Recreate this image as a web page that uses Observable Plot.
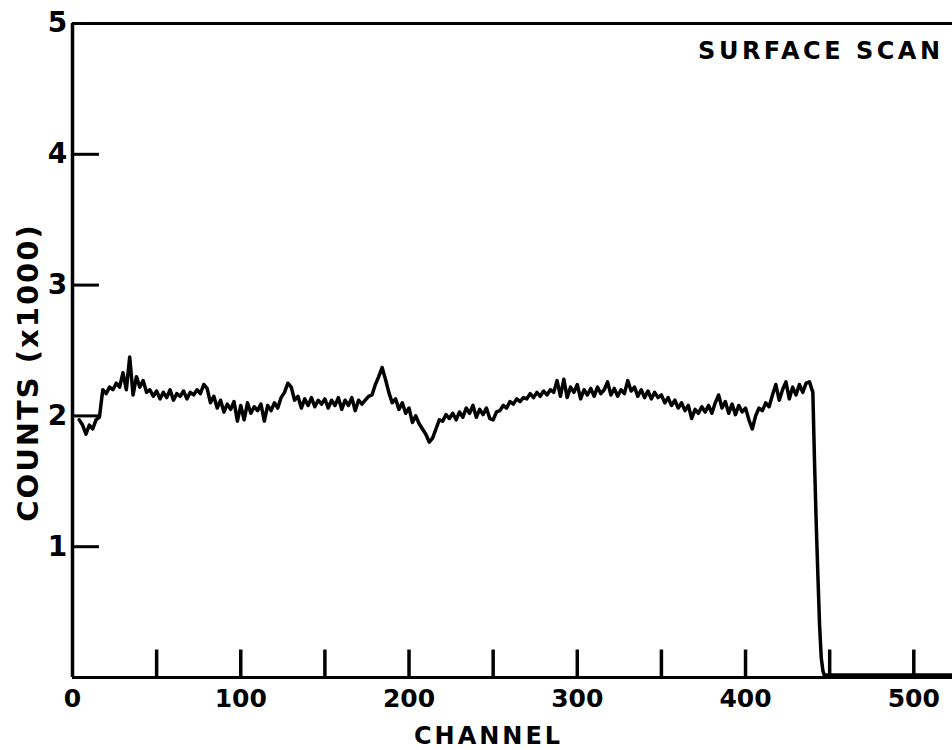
<!DOCTYPE html>
<html>
<head>
<meta charset="utf-8">
<script src="https://cdn.jsdelivr.net/npm/d3@7"></script>
<script src="https://cdn.jsdelivr.net/npm/@observablehq/plot@0.6"></script>
<style>
  html, body { margin: 0; padding: 0; background: #fff; }
  #chart svg { display: block; }
</style>
</head>
<body>
<div id="chart"></div>
<script>
// Channel numbers (x) and counts in thousands (y)
const channels = [
  4,6,8,10,12,14,16,18,20,22,24,26,28,30,32,34,36,38,40,42,44,46,48,50,
  52,54,56,58,60,62,64,66,68,70,72,74,76,78,80,82,84,86,88,90,92,94,96,98,100,
  102,104,106,108,110,112,114,116,118,120,122,124,126,128,130,132,134,136,138,140,
  142,144,146,148,150,152,154,156,158,160,162,164,166,168,170,172,174,176,178,180,
  182,184,186,188,190,192,194,196,198,200,202,204,206,208,210,212,214,216,218,220,
  222,224,226,228,230,232,234,236,238,240,242,244,246,248,250,252,254,256,258,260,
  262,264,266,268,270,272,274,276,278,280,282,284,286,288,290,292,294,296,298,300,
  302,304,306,308,310,312,314,316,318,320,322,324,326,328,330,332,334,336,338,340,
  342,344,346,348,350,352,354,356,358,360,362,364,366,368,370,372,374,376,378,380,
  382,384,386,388,390,392,394,396,398,400,402,404,406,408,410,412,414,416,418,420,
  422,424,426,428,430,432,434,436,438,440,441,442,443,444,445,446,447,448,460,480,500,523
];
const counts = [
  1.97,1.93,1.86,1.93,1.90,1.97,1.99,2.20,2.17,2.22,2.20,2.25,2.22,2.33,2.20,2.45,2.16,2.30,2.22,2.27,2.18,2.20,2.15,2.19,
  2.13,2.18,2.14,2.20,2.12,2.17,2.15,2.19,2.13,2.18,2.16,2.20,2.17,2.24,2.21,2.10,2.15,2.06,2.12,2.03,2.09,2.05,2.11,1.96,2.08,
  1.97,2.10,2.02,2.07,2.04,2.09,1.96,2.08,2.04,2.10,2.06,2.14,2.18,2.25,2.22,2.12,2.15,2.06,2.13,2.08,
  2.14,2.07,2.12,2.09,2.13,2.06,2.12,2.08,2.14,2.05,2.12,2.08,2.14,2.04,2.12,2.09,2.12,2.15,2.16,2.24,
  2.30,2.37,2.28,2.18,2.10,2.13,2.05,2.10,2.02,2.06,1.95,2.00,1.94,1.90,1.86,1.80,1.83,1.90,1.97,1.96,
  2.01,1.98,2.02,1.97,2.03,1.99,2.06,2.02,2.08,1.99,2.05,2.01,2.06,1.98,1.97,2.03,2.04,2.08,2.06,2.11,
  2.09,2.13,2.11,2.14,2.13,2.17,2.14,2.18,2.15,2.19,2.16,2.20,2.18,2.27,2.15,2.28,2.14,2.22,2.18,2.24,
  2.13,2.20,2.16,2.21,2.15,2.22,2.17,2.20,2.26,2.16,2.21,2.15,2.20,2.17,2.27,2.19,2.22,2.15,2.20,2.14,
  2.19,2.13,2.18,2.14,2.16,2.10,2.14,2.08,2.12,2.06,2.10,2.04,2.08,1.98,2.05,2.02,2.07,2.03,2.08,2.02,
  2.10,2.16,2.06,2.11,2.02,2.09,2.01,2.08,2.03,2.06,1.97,1.90,2.00,2.06,2.04,2.10,2.07,2.16,2.24,2.12,
  2.20,2.26,2.13,2.22,2.16,2.24,2.18,2.25,2.26,2.18,1.65,1.18,0.78,0.40,0.15,0.05,0.01,0.02,0.02,0.02,0.02,0.02
];
const xTickMarks = [50,100,150,200,250,300,350,400,450,500];
const xTickLabels = [0,100,200,300,400,500];
const yTickMarks = [1,2,3,4];
const yTickLabels = [1,2,3,4,5];
const xDomain = [0, 523];
const yDomain = [0, 5];

const data = channels.map((c, i) => ({channel: c, count: counts[i]}));

const font = "DejaVu Sans";
const plot = Plot.plot({
  width: 952,
  height: 750,
  marginLeft: 72,
  marginRight: 0,
  marginTop: 23,
  marginBottom: 73,
  style: {fontFamily: font, background: "#fff", color: "#000"},
  x: {domain: xDomain, axis: null},
  y: {domain: yDomain, axis: null},
  marks: [
    // frame: left, bottom, top
    Plot.ruleX([0], {y1: yDomain[0], y2: yDomain[1], strokeWidth: 3.5}),
    Plot.ruleY([0], {x1: xDomain[0], x2: xDomain[1], strokeWidth: 3}),
    Plot.ruleY([5], {x1: xDomain[0], x2: xDomain[1], strokeWidth: 3}),
    // inward ticks
    Plot.ruleX(xTickMarks, {x: d => d, y1: 0, y2: 0.21, strokeWidth: 3.5}),
    Plot.ruleY(yTickMarks, {y: d => d, x1: 0, x2: 16, strokeWidth: 3}),
    // tick labels
    Plot.text(xTickLabels, {x: d => d, y: 0, dy: 21, text: d => String(d), fontSize: 25, fontWeight: "bold", fill: "#000"}),
    Plot.text(yTickLabels, {x: 0, y: d => d, dx: -15, dy: 0, text: d => String(d), fontSize: 28, fontWeight: "bold", fill: "#000"}),
    // data trace
    Plot.line(data, {x: "channel", y: "count", strokeWidth: 3.5, strokeLinejoin: "round", curve: "linear"}),
    // titles
    Plot.text(["CHANNEL"], {frameAnchor: "bottom", textAnchor: "middle", dx: -24, dy: 66, fontSize: 24, fontWeight: "bold", fill: "#000"}),
    Plot.text(["SURFACE SCAN"], {frameAnchor: "top-right", textAnchor: "end", dx: -9, dy: 18, fontSize: 24, fontWeight: "bold", fill: "#000"}),
    Plot.text(["COUNTS (x1000)"], {frameAnchor: "left", textAnchor: "middle", rotate: -90, dx: -44, dy: 22, fontSize: 29, fontWeight: "bold", fill: "#000"})
  ]
});
document.getElementById("chart").appendChild(plot);
// letter spacing for the titles
d3.select(plot).selectAll("text").each(function() {
  const t = this.textContent;
  if (t === "CHANNEL") this.setAttribute("letter-spacing", "3");
  if (t === "SURFACE SCAN") this.setAttribute("letter-spacing", "3.5");
  if (t === "COUNTS (x1000)") this.setAttribute("letter-spacing", "2");
});
</script>
</body>
</html>
